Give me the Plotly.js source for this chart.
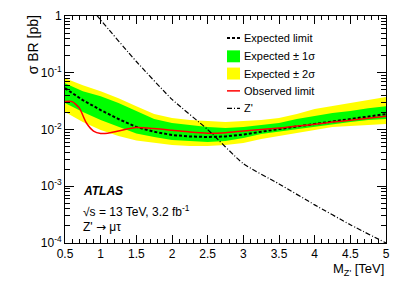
<!DOCTYPE html>
<html>
<head>
<meta charset="utf-8">
<script src="https://cdn.plot.ly/plotly-3.0.1.min.js"></script>
<style>html,body{margin:0;padding:0;background:#fff;}#chart{width:407px;height:292px;}</style>
</head>
<body>
<div id="chart"></div>
<script>
// ---- data ----
const mass = [0.5,0.75,1.0,1.25,1.5,1.75,2.0,2.25,2.5,2.75,3.0,3.25,3.5,3.75,4.0,4.25,4.5,4.75,5.0];
const expected = [0.0535,0.0329,0.0220,0.0153,0.0111,0.0091,0.0080,0.00754,0.00738,0.00754,0.00817,0.00923,0.0102,0.0113,0.0125,0.0141,0.0153,0.0169,0.0187];
const oneSigmaLow  = [0.0292,0.0203,0.0147,0.0111,0.00850,0.00738,0.00654,0.00628,0.00604,0.00628,0.00710,0.00834,0.00923,0.0102,0.0113,0.0125,0.0135,0.0147,0.0153];
const oneSigmaHigh = [0.0654,0.0473,0.0387,0.0292,0.0211,0.0153,0.0130,0.0120,0.0111,0.0106,0.0111,0.0120,0.0130,0.0153,0.0173,0.0195,0.0211,0.0238,0.0258];
const twoSigmaLow  = [0.0203,0.0135,0.0098,0.00769,0.00640,0.00580,0.00535,0.00514,0.00514,0.00535,0.00580,0.00681,0.00769,0.00869,0.0098,0.0111,0.0115,0.0120,0.0125];
const twoSigmaHigh = [0.0801,0.0604,0.0473,0.0357,0.0258,0.0187,0.0159,0.0147,0.0141,0.0135,0.0141,0.0147,0.0159,0.0187,0.0229,0.0258,0.0292,0.0329,0.0372];

const obsMass  = [0.5,0.6,0.7,0.8,0.9,1.0,1.1,1.25,1.5,1.75,2.0,2.25,2.5,2.75,3.0,3.25,3.5,3.75,4.0,4.25,4.5,4.75,5.0];
const observed = [0.031,0.031,0.024,0.013,0.0094,0.0085,0.0086,0.0094,0.0108,0.0104,0.0097,0.0090,0.0086,0.0088,0.0094,0.0100,0.0106,0.0115,0.0124,0.0135,0.0146,0.0158,0.0172];

const zpMass  = [0.5,1.0,1.5,2.0,2.5,3.0,3.5,4.0,4.5,5.0];
const zpXsec  = [5.0,0.85,0.158,0.034,0.0100,0.0025,0.0011,0.00047,0.00021,0.0001];

const yTickVals = [1e-4,1e-3,1e-2,1e-1,1];
const yTickText = ['10<sup>-4</sup>','10<sup>-3</sup>','10<sup>-2</sup>','10<sup>-1</sup>','1'];

const legendLabels = ['Expected limit','Expected \u00b1 1\u03c3','Expected \u00b1 2\u03c3','Observed limit',"Z'"];

// ---- helpers ----
function band(lo, hi){
  return {x: mass.concat(mass.slice().reverse()), y: lo.concat(hi.slice().reverse())};
}
const b2 = band(twoSigmaLow, twoSigmaHigh);
const b1 = band(oneSigmaLow, oneSigmaHigh);

const FONT = 'Liberation Sans, Arial, Helvetica, sans-serif';

const traces = [
  {x: b2.x, y: b2.y, type:'scatter', mode:'lines', fill:'toself', fillcolor:'#ffff00', line:{width:0, color:'#ffff00'}, hoverinfo:'skip', showlegend:false},
  {x: b1.x, y: b1.y, type:'scatter', mode:'lines', fill:'toself', fillcolor:'#00ff00', line:{width:0, color:'#00ff00'}, hoverinfo:'skip', showlegend:false},
  {x: mass, y: expected, type:'scatter', mode:'lines', line:{color:'#000', width:2, dash:'3px,2px'}, showlegend:false},
  {x: obsMass, y: observed, type:'scatter', mode:'lines', line:{color:'#ff0000', width:1.5, shape:'spline', smoothing:0.6}, showlegend:false},
  {x: zpMass, y: zpXsec, type:'scatter', mode:'lines', line:{color:'#000', width:1.2, dash:'5px,2px,1px,2px', shape:'spline', smoothing:0.5}, showlegend:false}
];

// ---- custom legend (paper coords) ----
const L = 65, R = 386, T = 15.5, B = 243.5;
function px(x){ return (x - L)/(R - L); }
function py(y){ return (B - y)/(B - T); }
const rowsY = [37.7, 56, 73.3, 90.7, 108.3];
const symX0 = 227, symX1 = 240, textX = 242;
const shapes = [];
const annotations = [];
shapes.push({type:'line', xref:'paper', yref:'paper', x0:px(symX0), x1:px(symX1), y0:py(rowsY[0]), y1:py(rowsY[0]), line:{color:'#000', width:2, dash:'3px,2px'}});
shapes.push({type:'rect', xref:'paper', yref:'paper', x0:px(symX0), x1:px(symX1), y0:py(rowsY[1]+6), y1:py(rowsY[1]-6), fillcolor:'#00ff00', line:{width:0}});
shapes.push({type:'rect', xref:'paper', yref:'paper', x0:px(symX0), x1:px(symX1), y0:py(rowsY[2]+6), y1:py(rowsY[2]-6), fillcolor:'#ffff00', line:{width:0}});
shapes.push({type:'line', xref:'paper', yref:'paper', x0:px(symX0), x1:px(symX1), y0:py(rowsY[3]), y1:py(rowsY[3]), line:{color:'#ff0000', width:1.5}});
shapes.push({type:'line', xref:'paper', yref:'paper', x0:px(symX0), x1:px(symX1), y0:py(rowsY[4]), y1:py(rowsY[4]), line:{color:'#000', width:1.2, dash:'5px,2px,1px,2px'}});
legendLabels.forEach((t,i)=>{
  annotations.push({xref:'paper', yref:'paper', x:px(textX), y:py(rowsY[i]), text:t, showarrow:false, xanchor:'left', yanchor:'middle', font:{family:FONT, size:11, color:'#000'}});
});

annotations.push({xref:'paper', yref:'paper', x:px(81), y:py(191.7), text:'<b><i>ATLAS</i></b>', showarrow:false, xanchor:'left', yanchor:'middle', font:{family:FONT, size:12, color:'#000'}});
annotations.push({xref:'paper', yref:'paper', x:px(81), y:py(211.7), text:'\u221as = 13 TeV, 3.2 fb<sup>-1</sup>', showarrow:false, xanchor:'left', yanchor:'middle', font:{family:FONT, size:12, color:'#000'}});
annotations.push({xref:'paper', yref:'paper', x:px(81), y:py(227.3), text:"Z' <span style=\"font-family:DejaVu Sans\">\u2192</span> \u03bc\u03c4", showarrow:false, xanchor:'left', yanchor:'middle', font:{family:FONT, size:12, color:'#000'}});

// axis titles placed like ROOT (end-aligned)
annotations.push({xref:'paper', yref:'paper', x:1, y:py(270), text:"M<sub>Z'</sub> [TeV]", showarrow:false, xanchor:'right', yanchor:'middle', font:{family:FONT, size:13, color:'#000'}});
annotations.push({xref:'paper', yref:'paper', x:px(33), y:py(45), text:'\u03c3 BR [pb]', textangle:-90, showarrow:false, xanchor:'center', yanchor:'middle', font:{family:FONT, size:14, color:'#000'}});

const layout = {
  width:407, height:292,
  margin:{l:65, r:21, t:15.5, b:48.5, pad:0},
  paper_bgcolor:'#fff', plot_bgcolor:'#fff',
  showlegend:false,
  font:{family:FONT, size:12, color:'#000'},
  xaxis:{
    range:[0.5,5], tick0:0.5, dtick:0.5, ticks:'inside', ticklen:8, tickwidth:1, tickcolor:'#000',
    showline:true, linecolor:'#000', linewidth:1, mirror:'allticks', showgrid:false, zeroline:false,
    tickfont:{family:FONT, size:12, color:'#000'},
    minor:{dtick:0.1, tick0:0.5, ticks:'inside', ticklen:4, tickcolor:'#000', showgrid:false}
  },
  yaxis:{
    type:'log', range:[-4,0], tickvals:yTickVals, ticktext:yTickText, ticks:'inside', ticklen:9, tickwidth:1, tickcolor:'#000',
    showline:true, linecolor:'#000', linewidth:1, mirror:'allticks', showgrid:false, zeroline:false,
    tickfont:{family:FONT, size:12, color:'#000'},
    minor:{dtick:'D1', ticks:'inside', ticklen:5, tickcolor:'#000', showgrid:false}
  },
  shapes: shapes,
  annotations: annotations
};

Plotly.newPlot('chart', traces, layout, {staticPlot:true, displayModeBar:false});
</script>
</body>
</html>
